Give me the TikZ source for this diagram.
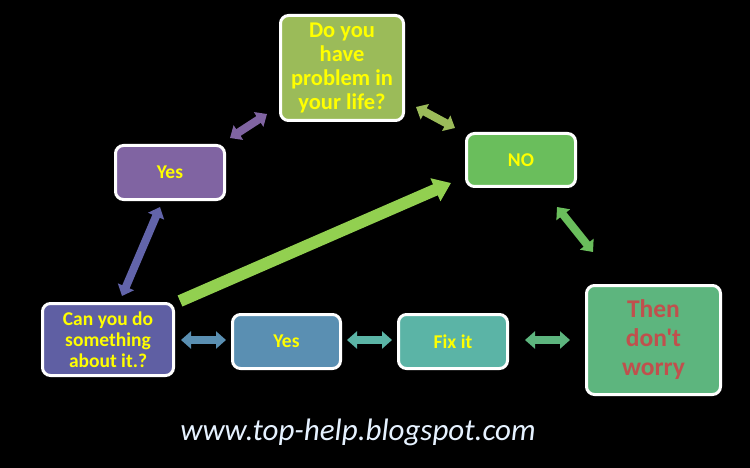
\documentclass[tikz,border=0pt]{standalone}
\usepackage{fontspec}
\setmainfont{Carlito}[Ligatures=TeXOff]
\usetikzlibrary{arrows.meta}
\definecolor{cTop}{HTML}{9BBB59}
\definecolor{cPurple}{HTML}{8064A2}
\definecolor{cNo}{HTML}{6ABE5C}
\definecolor{cCan}{HTML}{5F5FA3}
\definecolor{cCanArr}{HTML}{6264AA}
\definecolor{cYesB}{HTML}{5A8FB2}
\definecolor{cFix}{HTML}{5BB4A6}
\definecolor{cThen}{HTML}{5DB57E}
\definecolor{cBig}{HTML}{92D050}
\definecolor{cYellow}{HTML}{FFFF00}
\definecolor{cRed}{HTML}{C0504D}
\definecolor{cUrl}{HTML}{E6F2FF}
\tikzset{
  box/.style={draw=white, line width=3pt, rounded corners=8pt, align=center,
    inner sep=1pt, text=cYellow, font=\bfseries\fontsize{19.5}{21}\selectfont},
  dbl/.style={line width=8pt, {Triangle[length=10pt,width=17pt]}-{Triangle[length=10pt,width=17pt]}},
  big/.style={line width=12pt, -{Triangle[length=17pt,width=24pt]}}
}
\begin{document}
\begin{tikzpicture}[x=1pt,y=-1pt]
\fill[black] (0,0) rectangle (750,468);
\useasboundingbox (0,0) rectangle (750,468);

\node[box, fill=cTop, minimum width=123pt, minimum height=105pt,
  font=\bfseries\fontsize{22.5}{24}\selectfont] (top) at (342,68) {Do you\\have\\problem in\\your life?};
\node[box, fill=cPurple, minimum width=109pt, minimum height=54pt] (yesP) at (170,172.5) {Yes};
\node[box, fill=cNo, minimum width=109pt, minimum height=53pt] (no) at (521,160) {NO};
\node[box, fill=cCan, minimum width=131pt, minimum height=72pt] (can) at (108,339.5) {Can you do\\something\\about it.?};
\node[box, fill=cYesB, minimum width=108pt, minimum height=54pt] (yesB) at (286.5,341.5) {Yes};
\node[box, fill=cFix, minimum width=109pt, minimum height=54pt] (fix) at (453,341.5) {Fix it};
\node[box, fill=cThen, minimum width=134pt, minimum height=109pt, text=cRed,
  font=\bfseries\fontsize{25.5}{29}\selectfont] (then) at (653.5,340) {Then\\don't\\worry};

\coordinate (a1) at (230,138); \coordinate (a2) at (267,114);
\coordinate (b1) at (416,107); \coordinate (b2) at (455,128);
\coordinate (c1) at (557,207); \coordinate (c2) at (593,252);
\coordinate (d1) at (160,207); \coordinate (d2) at (122,296);
\coordinate (e1) at (181,340); \coordinate (e2) at (226,340);
\coordinate (f1) at (347,340); \coordinate (f2) at (392,340);
\coordinate (g1) at (525,340); \coordinate (g2) at (570,340);
\coordinate (h1) at (180,301); \coordinate (h2) at (451,183);

\draw[dbl, cPurple] (a1) -- (a2);
\draw[dbl, cTop] (b1) -- (b2);
\draw[dbl, cNo] (c1) -- (c2);
\draw[dbl, cCanArr] (d1) -- (d2);
\draw[dbl, cYesB] (e1) -- (e2);
\draw[dbl, cFix] (f1) -- (f2);
\draw[dbl, cThen] (g1) -- (g2);
\draw[big, cBig] (h1) -- (h2);

\node[text=cUrl, font=\itshape\fontsize{31}{34}\selectfont] (url) at (358,432) {www.top-help.blogspot.com};
\end{tikzpicture}
\end{document}
